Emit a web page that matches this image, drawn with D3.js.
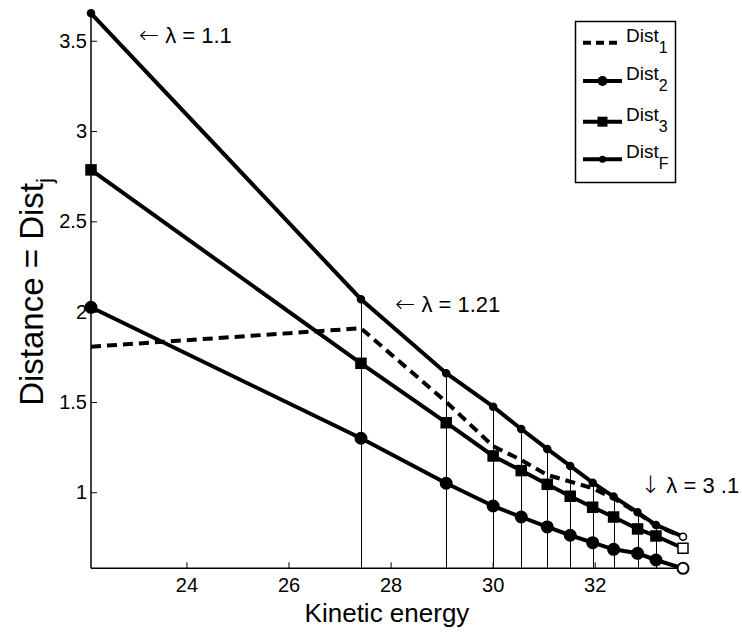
<!DOCTYPE html>
<html>
<head>
<meta charset="utf-8">
<script src="https://cdn.jsdelivr.net/npm/d3@7"></script>
<style>
  body { margin: 0; background: #fff; }
  svg text { font-family: 'Liberation Sans', Arial, sans-serif; fill: #000; }
</style>
</head>
<body>
<div class="canva"></div>
<script>
// kinetic energy for each lambda step
const kinetic = [22.13, 27.42, 29.09, 30.01, 30.56, 31.07, 31.52, 31.96, 32.37, 32.84, 33.20, 33.73];

const dist1 = [1.806, 1.908, 1.500, 1.255, 1.179, 1.096, 1.059, 1.022, 0.967, 0.885, 0.815, 0.752];
const dist2 = [2.024, 1.299, 1.050, 0.924, 0.863, 0.808, 0.762, 0.721, 0.684, 0.662, 0.625, 0.579];
const dist3 = [2.785, 1.714, 1.385, 1.201, 1.120, 1.044, 0.978, 0.917, 0.863, 0.797, 0.758, 0.690];
const distF = [3.652, 2.069, 1.659, 1.474, 1.350, 1.240, 1.146, 1.053, 0.976, 0.889, 0.819, 0.754];

const xTicks = [24, 26, 28, 30, 32];
const yTicks = [1, 1.5, 2, 2.5, 3, 3.5];

const legendNames = ['1', '2', '3', 'F'];

// text annotations: [x, y, arrow, label]
const notes = [
    [23.07, 3.53, '\u2190', ' \u03bb = 1.1'],
    [28.09, 2.04, '\u2190', ' \u03bb = 1.21'],
    [32.89, 1.04, '\u2193', ' \u03bb = 3 .1']
];

const W = 742, H = 632;
const plotL = 91, plotR = 683, plotT = 13.3, plotB = 568.3;

const allY = dist1.concat(dist2, dist3, distF);

const x = d3.scaleLinear().domain(d3.extent(kinetic)).range([plotL, plotR]);
const y = d3.scaleLinear().domain(d3.extent(allY)).range([plotB, plotT]);

const svg = d3.select(".canva").append("svg")
    .attr("width", W)
    .attr("height", H);

// thin drop lines from the top curve down to the axis
svg.append("g").selectAll("line")
    .data(kinetic.slice(1, kinetic.length - 1))
    .enter().append("line")
    .attr("x1", d => Math.round(x(d)) + 0.5)
    .attr("x2", d => Math.round(x(d)) + 0.5)
    .attr("y1", (d, i) => y(distF[i + 1]))
    .attr("y2", plotB)
    .attr("stroke", "#000")
    .attr("stroke-width", 1);

// axes, MATLAB style ticks pointing inward
const xAxis = svg.append("g")
    .attr("transform", `translate(0,${plotB})`)
    .call(d3.axisBottom(x).tickValues(xTicks).tickSize(-6).tickPadding(10).tickFormat(d3.format("d")));
xAxis.select(".domain").attr("d", `M${plotL},0H${plotR}`).attr("stroke-width", 1.5);
xAxis.selectAll("text").attr("font-size", 20).attr("dy", "0.71em");

const yAxis = svg.append("g")
    .attr("transform", `translate(${plotL},0)`)
    .call(d3.axisLeft(y).tickValues(yTicks).tickSize(-6).tickPadding(4).tickFormat(d => String(d)));
yAxis.select(".domain").attr("d", `M0,${plotT}V${plotB}`).attr("stroke-width", 1.5);
yAxis.selectAll("text").attr("font-size", 20);

const line = d3.line().x((d, i) => x(kinetic[i])).y(d => y(d));

function drawSeries(vals, dashed) {
    svg.append("path")
        .datum(vals)
        .attr("d", line)
        .attr("fill", "none")
        .attr("stroke", "#000")
        .attr("stroke-width", 4)
        .attr("stroke-dasharray", dashed ? "10,6" : null);
}

drawSeries(dist1, true);
drawSeries(dist2, false);
drawSeries(dist3, false);
drawSeries(distF, false);

const last = kinetic.length - 1;

svg.append("g").selectAll("circle")
    .data(dist2)
    .enter().append("circle")
    .attr("cx", (d, i) => x(kinetic[i]))
    .attr("cy", d => y(d))
    .attr("r", 5.5)
    .attr("fill", (d, i) => i === last ? "#fff" : "#000")
    .attr("stroke", "#000")
    .attr("stroke-width", 2);

svg.append("g").selectAll("rect")
    .data(dist3)
    .enter().append("rect")
    .attr("x", (d, i) => x(kinetic[i]) - 5)
    .attr("y", d => y(d) - 5)
    .attr("width", 10)
    .attr("height", 10)
    .attr("fill", (d, i) => i === last ? "#fff" : "#000")
    .attr("stroke", "#000")
    .attr("stroke-width", 1.5);

svg.append("g").selectAll("circle")
    .data(distF)
    .enter().append("circle")
    .attr("cx", (d, i) => x(kinetic[i]))
    .attr("cy", d => y(d))
    .attr("r", 3.5)
    .attr("fill", (d, i) => i === last ? "#fff" : "#000")
    .attr("stroke", "#000")
    .attr("stroke-width", 1.5);

// annotations
notes.forEach(n => {
    const t = svg.append("text")
        .attr("x", x(n[0]))
        .attr("y", y(n[1]))
        .attr("dy", "0.35em")
        .attr("font-size", 22);
    t.append("tspan").attr("font-family", "DejaVu Sans").attr("font-weight", 200).attr("font-size", 24).text(n[2]);
    t.append("tspan").text(n[3]);
});

// axis labels
svg.append("text")
    .attr("x", (plotL + plotR) / 2)
    .attr("y", 622)
    .attr("text-anchor", "middle")
    .attr("font-size", 26)
    .text("Kinetic energy");

const yl = svg.append("text")
    .attr("transform", "translate(43,292) rotate(-90)")
    .attr("text-anchor", "middle")
    .attr("font-size", 33);
yl.append("tspan").text("Distance = Dist");
yl.append("tspan").attr("font-size", 22).attr("dy", 9).text("j");

// legend
const lg = svg.append("g");
lg.append("rect")
    .attr("x", 575.5).attr("y", 21.5)
    .attr("width", 100).attr("height", 161)
    .attr("fill", "#fff")
    .attr("stroke", "#000")
    .attr("stroke-width", 1.5);

const rowY = [42.7, 81, 121.7, 159.3];

legendNames.forEach((name, i) => {
    const cy = rowY[i];
    lg.append("line")
        .attr("x1", 583).attr("x2", 622)
        .attr("y1", cy).attr("y2", cy)
        .attr("stroke", "#000")
        .attr("stroke-width", 4)
        .attr("stroke-dasharray", i === 0 ? "8,5" : null);
    if (i === 1) {
        lg.append("circle").attr("cx", 602.5).attr("cy", cy).attr("r", 5).attr("fill", "#000");
    } else if (i === 2) {
        lg.append("rect").attr("x", 597.5).attr("y", cy - 5).attr("width", 10).attr("height", 10).attr("fill", "#000");
    } else if (i === 3) {
        lg.append("circle").attr("cx", 602.5).attr("cy", cy).attr("r", 3.5).attr("fill", "#000");
    }
    const t = lg.append("text")
        .attr("x", 626)
        .attr("y", cy - 1)
        .attr("font-size", 19);
    t.append("tspan").text("Dist");
    t.append("tspan").attr("font-size", 16).attr("dy", 11).text(name);
});
</script>
</body>
</html>
